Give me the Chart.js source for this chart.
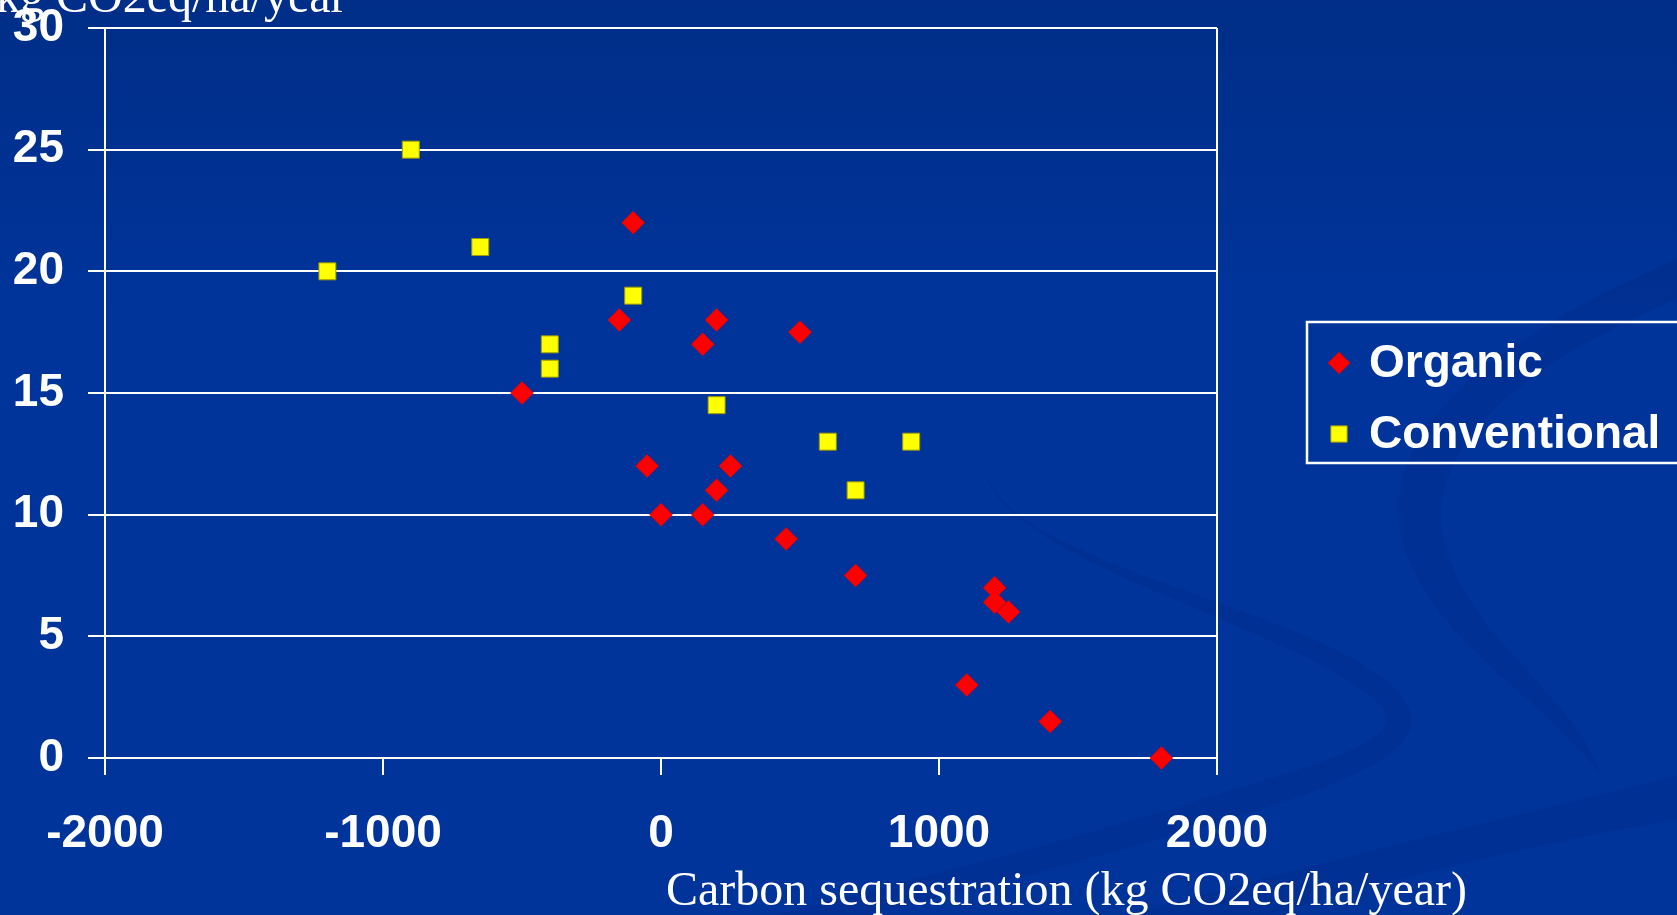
<!DOCTYPE html>
<html>
<head>
<meta charset="utf-8">
<script src="https://cdn.jsdelivr.net/npm/chart.js@4.4.1/dist/chart.umd.min.js"></script>
<style>
  html, body { margin: 0; padding: 0; background: #003399; overflow: hidden; }
  canvas { display: block; }
</style>
</head>
<body>
<canvas id="chart" width="1677" height="915"></canvas>
<script>
// Carbon sequestration vs. emissions, organic and conventional farms
const xTickValues = [-2000, -1000, 0, 1000, 2000];
const yTickValues = [0, 5, 10, 15, 20, 25, 30];

const organicX = [-100, -150, 200, 150, 500, -500, -50, 250, 200, 0, 150, 450, 700, 1200, 1200, 1250, 1100, 1400, 1800];
const organicY = [22, 18, 18, 17, 17.5, 15, 12, 12, 11, 10, 10, 9, 7.5, 7, 6.4, 6, 3, 1.5, 0];

const conventionalX = [-900, -1200, -650, -100, -400, -400, 200, 600, 900, 700];
const conventionalY = [25, 20, 21, 19, 17, 16, 14.5, 13, 13, 11];

const seriesNames = ['Organic', 'Conventional'];
const xAxisTitle = 'Carbon sequestration (kg CO2eq/ha/year)';
const yAxisTitle = 'kg CO2eq/ha/year';

const toPoints = (xs, ys) => xs.map((x, i) => ({ x: x, y: ys[i] }));

const tickFont = { family: '"Liberation Sans", Arial, sans-serif', weight: 'bold', size: 46 };
const titleFont = '48px "Liberation Serif", "Times New Roman", serif';

// Slide background with the darker swooshes
const slideBackground = {
  id: 'slideBackground',
  beforeDraw(chart) {
    const ctx = chart.ctx;
    const w = chart.width, h = chart.height;
    ctx.save();
    const g = ctx.createLinearGradient(0, 0, 0, h);
    g.addColorStop(0, '#002E88');
    g.addColorStop(0.35, '#00349B');
    g.addColorStop(1, '#00349B');
    ctx.fillStyle = g;
    ctx.fillRect(0, 0, w, h);

    ctx.fillStyle = 'rgba(0, 28, 105, 0.16)';
    // large crescent sweeping round behind the lower right of the plot
    ctx.beginPath();
    ctx.moveTo(985, 470);
    ctx.bezierCurveTo(1010, 570, 1340, 610, 1405, 700);
    ctx.bezierCurveTo(1445, 760, 1300, 800, 1120, 850);
    ctx.bezierCurveTo(980, 890, 860, 915, 780, 935);
    ctx.lineTo(700, 935);
    ctx.bezierCurveTo(830, 900, 1000, 860, 1150, 815);
    ctx.bezierCurveTo(1330, 760, 1420, 740, 1375, 700);
    ctx.bezierCurveTo(1290, 625, 1000, 560, 985, 470);
    ctx.closePath();
    ctx.fill();

    // crescent on the right edge
    ctx.beginPath();
    ctx.moveTo(1700, 250);
    ctx.bezierCurveTo(1480, 340, 1370, 440, 1405, 550);
    ctx.bezierCurveTo(1440, 650, 1560, 710, 1600, 775);
    ctx.bezierCurveTo(1580, 700, 1470, 640, 1445, 545);
    ctx.bezierCurveTo(1420, 450, 1520, 360, 1700, 290);
    ctx.closePath();
    ctx.fill();

    // diagonal band across the bottom right corner
    ctx.beginPath();
    ctx.moveTo(1700, 770);
    ctx.bezierCurveTo(1500, 820, 1280, 870, 1060, 935);
    ctx.lineTo(1200, 935);
    ctx.bezierCurveTo(1380, 880, 1550, 840, 1700, 815);
    ctx.closePath();
    ctx.fill();
    ctx.restore();
  }
};

// Axis titles and boxed legend
const slideAnnotations = {
  id: 'slideAnnotations',
  afterDraw(chart) {
    const ctx = chart.ctx;
    ctx.save();
    ctx.fillStyle = '#ffffff';
    ctx.font = titleFont;
    ctx.textBaseline = 'alphabetic';
    ctx.textAlign = 'left';
    ctx.fillText(yAxisTitle, -4, 12);
    ctx.textAlign = 'right';
    ctx.fillText(xAxisTitle, 1467, 905);

    // legend frame
    ctx.strokeStyle = '#ffffff';
    ctx.lineWidth = 2.5;
    ctx.strokeRect(1307, 322, 420, 141);

    const rowY = [363, 434];
    ctx.font = 'bold 46px "Liberation Sans", Arial, sans-serif';
    ctx.textAlign = 'left';
    ctx.textBaseline = 'middle';
    chart.data.datasets.forEach((ds, i) => {
      const isDiamond = ds.pointStyle === 'rectRot';
      ctx.fillStyle = ds.backgroundColor;
      ctx.strokeStyle = ds.borderColor;
      ctx.lineWidth = ds.borderWidth;
      Chart.helpers.drawPoint(ctx, {
        pointStyle: ds.pointStyle,
        radius: isDiamond ? 11 : 11.5,
        borderWidth: ds.borderWidth,
        rotation: 0
      }, 1339, rowY[i]);
      ctx.fillStyle = '#ffffff';
      ctx.fillText(ds.label, 1369, rowY[i] + 1);
    });
    ctx.restore();
  }
};

new Chart(document.getElementById('chart'), {
  type: 'scatter',
  data: {
    datasets: [
      {
        label: seriesNames[0],
        data: toPoints(organicX, organicY),
        pointStyle: 'rectRot',
        pointRadius: 11.5,
        backgroundColor: '#FF0000',
        borderColor: '#E00000',
        borderWidth: 0.5,
        clip: false
      },
      {
        label: seriesNames[1],
        data: toPoints(conventionalX, conventionalY),
        pointStyle: 'rect',
        pointRadius: 12,
        backgroundColor: '#FFFF00',
        borderColor: '#9C9C00',
        borderWidth: 1,
        clip: false
      }
    ]
  },
  options: {
    responsive: false,
    animation: false,
    devicePixelRatio: 1,
    events: [],
    layout: { padding: { top: 28, right: 460, left: 0, bottom: 0 } },
    plugins: {
      legend: { display: false },
      tooltip: { enabled: false }
    },
    scales: {
      x: {
        type: 'linear',
        min: -2000,
        max: 2000,
        afterBuildTicks: (scale) => { scale.ticks = xTickValues.map(v => ({ value: v })); },
        afterFit: (scale) => {
          scale.height = 157;
          scale.paddingTop = 0;
          scale.paddingBottom = 0;
        },
        grid: {
          color: (c) => (c.tick && Math.abs(c.tick.value) === 2000) ? '#ffffff' : 'rgba(0,0,0,0)',
          tickColor: '#ffffff',
          lineWidth: 2,
          tickLength: 17,
          drawTicks: true
        },
        border: { display: true, color: '#ffffff', width: 2 },
        ticks: {
          color: '#ffffff',
          font: tickFont,
          padding: 32,
          autoSkip: false,
          maxRotation: 0,
          callback: (v) => String(v)
        }
      },
      y: {
        type: 'linear',
        min: 0,
        max: 30,
        afterBuildTicks: (scale) => { scale.ticks = yTickValues.map(v => ({ value: v })); },
        afterFit: (scale) => {
          scale.width = 105;
          scale.paddingTop = 0;
          scale.paddingBottom = 0;
        },
        grid: {
          color: '#ffffff',
          tickColor: '#ffffff',
          lineWidth: 2,
          tickLength: 17,
          drawTicks: true
        },
        border: { display: true, color: '#ffffff', width: 2 },
        ticks: {
          color: '#ffffff',
          font: tickFont,
          padding: 24,
          callback: (v) => String(v)
        }
      }
    }
  },
  plugins: [slideBackground, slideAnnotations]
});
</script>
</body>
</html>
